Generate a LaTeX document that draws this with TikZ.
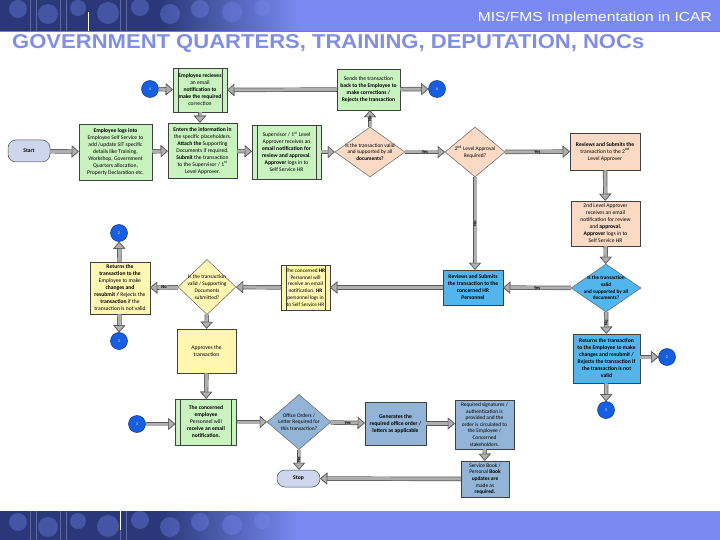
\documentclass[tikz,border=0pt]{standalone}
\usepackage{fontspec}
\setmainfont{Carlito}
\newfontfamily\arialfont{Liberation Sans}
\usepackage{graphicx}
\usetikzlibrary{shapes.geometric,arrows.meta}

\definecolor{hdr}{RGB}{122,138,242}
\definecolor{hdrdark}{RGB}{42,56,122}
\definecolor{titlec}{RGB}{128,142,230}
\definecolor{grnf}{RGB}{200,242,190}
\definecolor{pchf}{RGB}{250,218,196}
\definecolor{bluf}{RGB}{82,182,236}
\definecolor{yelf}{RGB}{255,246,178}
\definecolor{stlf}{RGB}{145,180,215}
\definecolor{circf}{RGB}{22,95,225}
\definecolor{termf}{RGB}{205,214,236}
\definecolor{arrf}{RGB}{175,175,175}
\definecolor{arrd}{RGB}{90,90,90}

\tikzset{
  box/.style={draw=black!75, line width=0.5pt, align=center, inner sep=0pt,
    font=\fontsize{5.6}{7.0}\selectfont},
  dbl/.style={path picture={\draw[black!75,line width=0.5pt]
    ([xshift=5pt]path picture bounding box.north west) -- ([xshift=5pt]path picture bounding box.south west)
    ([xshift=-5pt]path picture bounding box.north east) -- ([xshift=-5pt]path picture bounding box.south east);}},
  dia/.style={draw=black!60, line width=0.5pt, shape=diamond, inner sep=0pt},
  dtxt/.style={align=center, inner sep=0pt, font=\fontsize{5.4}{6.8}\selectfont},
  conn/.style={circle, draw=circf!60!black, line width=0.5pt, fill=circf, minimum size=17pt,
    inner sep=0pt, font=\fontsize{4}{4}\selectfont, text=white},
  term/.style={draw=black!70, line width=0.5pt, rounded corners=8pt, fill=termf, align=center,
    inner sep=0pt, font=\fontsize{5.6}{7.0}\selectfont\bfseries},
  flow/.style={draw=arrf, line width=3pt,
    -{Triangle[length=7pt,width=12pt,line width=0.6pt,color=arrd,fill=arrf]},
    preaction={draw=arrd, line width=4.4pt}},
  lab/.style={font=\fontsize{4.5}{5}\selectfont\bfseries, inner sep=0pt},
}

\begin{document}
\begin{tikzpicture}[x=1pt,y=-1pt]
\useasboundingbox (0,0) rectangle (720,540);
\fill[white] (0,0) rectangle (720,540);

% header band
\begin{scope}
\clip (0,0) rectangle (720,31);
\fill[hdrdark] (0,0) rectangle (160,31);
\shade[left color=hdrdark, right color=hdr] (160,0) rectangle (300,31);
\fill[hdr] (300,0) rectangle (720,31);
\foreach \cx/\cy/\r in {18/9/9, 48/14/10, 78/8/8, 108/13/11, 140/7/9, 170/14/10, 200/9/9, 232/12/10, 262/8/8}
  \fill[hdr, opacity=0.35] (\cx,\cy) circle (\r);
\foreach \vx in {30,36,60,66,120,126}
  \draw[white, opacity=0.25, line width=0.4pt] (\vx,0) -- (\vx,31);
\draw[white, line width=0.6pt] (88,12) -- (88,31);
\end{scope}
\draw[gray, line width=0.6pt] (0,31) -- (720,31);

% footer band
\begin{scope}
\clip (0,511) rectangle (720,540);
\fill[hdrdark] (0,511) rectangle (160,540);
\shade[left color=hdrdark, right color=hdr] (160,511) rectangle (300,540);
\fill[hdr] (300,511) rectangle (720,540);
\foreach \cx/\cy/\r in {18/522/9, 48/527/10, 78/521/8, 108/526/11, 140/520/9, 170/527/10, 200/522/9, 232/525/10, 262/521/8}
  \fill[hdr, opacity=0.35] (\cx,\cy) circle (\r);
\foreach \vx in {30,36,60,66,120,126}
  \draw[white, opacity=0.25, line width=0.4pt] (\vx,511) -- (\vx,540);
\draw[white, line width=0.6pt] (120,511) -- (120,530);
\end{scope}

% header texts
\node[anchor=east, inner sep=0pt] (subt) at (712,18)
  {\resizebox{234pt}{9.5pt}{\arialfont\color{white}MIS/FMS Implementation in ICAR}};
\node[anchor=south west, inner sep=0pt] (title) at (12,53)
  {\resizebox{632pt}{14pt}{\arialfont\bfseries\color{titlec}GOVERNMENT QUARTERS, TRAINING, DEPUTATION, NOCs}};

% connectors (circles)
\node[conn] (c4) at (150,89) {4};
\node[conn] (c6) at (437,89) {4};
\node[conn] (c2) at (119,233) {2};
\node[conn] (c3) at (119,341) {3};
\node[conn] (c5) at (667,357) {2};
\node[conn] (c7) at (606,410) {3};
\node[conn] (c1) at (137,424) {3};

% top row
\node[box, dbl, fill=grnf, minimum width=54pt, minimum height=44pt] (empRecv) at (200,90)
  {\textbf{Employee recieves}\\an email\\\textbf{notification to}\\\textbf{make the required}\\correction};
\node[box, fill=grnf, minimum width=63pt, minimum height=41pt] (sends) at (368.5,89.5)
  {Sends the transaction\\\textbf{back to the Employee to}\\\textbf{make corrections /}\\\textbf{Rejects the transaction}};

% second row
\node[term, minimum width=42pt, minimum height=22pt] (start) at (29,151) {Start};
\node[box, fill=grnf, minimum width=73pt, minimum height=56pt] (logs) at (115.5,152)
  {\bfseries Employee logs into\\Employee Self Service to\\add /update SIT specific\\details like Training,\\Workshop, Government\\Quarters allocation,\\Property Declaration etc.};
\node[box, fill=grnf, minimum width=69pt, minimum height=55pt] (enters) at (202.5,150.5)
  {\textbf{Enters the information in}\\the specific placeholders.\\\textbf{Attach the} Supporting\\Documents if required.\\\textbf{Submit} the transaction\\to the Supervisor / 1\textsuperscript{st}\\Level Approver.};
\node[box, dbl, fill=grnf, minimum width=69pt, minimum height=54pt] (sup) at (286.5,152)
  {Supervisor / 1\textsuperscript{st} Level\\Approver receives an\\\textbf{email notification for}\\\textbf{review and approval.}\\\textbf{Approver} logs in to\\Self Service HR};
\node[dia, fill=pchf, minimum width=70pt, minimum height=50pt] (d1) at (370,152) {};
\node[dtxt] at (d1) {Is the transaction valid\\and supported by all\\\textbf{documents?}};
\node[dia, fill=pchf, minimum width=60pt, minimum height=50pt] (d2) at (475,152) {};
\node[dtxt] at (d2) {2\textsuperscript{nd} Level Approval\\Required?};
\node[box, fill=pchf, minimum width=70pt, minimum height=37pt] (rev2) at (605,151.5)
  {\textbf{Reviews and Submits the}\\transaction to the 2\textsuperscript{nd}\\Level Approver};
\node[box, fill=pchf, minimum width=69pt, minimum height=45pt] (recv2) at (605.5,223.5)
  {2nd Level Approver\\receives an email\\notification for review\\and \textbf{approval.}\\\textbf{Approver} logs in to\\Self Service HR};

% third row
\node[dia, fill=bluf, minimum width=70pt, minimum height=48pt] (d3) at (606,288) {};
\node[dtxt, font=\fontsize{5.2}{6.6}\selectfont\bfseries] at (d3) {Is the transaction\\valid\\and supported by all\\documents?};
\node[box, fill=bluf, minimum width=60pt, minimum height=35pt, font=\fontsize{5.6}{7.0}\selectfont\bfseries] (revHR) at (473,287.5)
  {Reviews and Submits\\the transaction to the\\concerned HR\\Personnel};
\node[box, fill=bluf, minimum width=67pt, minimum height=49pt, font=\fontsize{5.6}{7.0}\selectfont\bfseries] (retB) at (606.5,358.5)
  {Returns the transaction\\to the Employee to make\\changes and resubmit /\\Rejects the transaction if\\the transaction is not\\valid};
\node[box, fill=yelf, minimum width=60pt, minimum height=52pt] (retY) at (120,288)
  {\textbf{Returns the}\\\textbf{transaction to the}\\Employee to make\\\textbf{changes and}\\\textbf{resubmit /} Rejects the\\\textbf{transaction} if the\\transaction is not valid};
\node[dia, fill=yelf, minimum width=58pt, minimum height=55pt] (dY) at (207,287) {};
\node[dtxt] at (dY) {Is the transaction\\valid / Supporting\\Documents\\submitted?};
\node[box, dbl, fill=yelf, minimum width=49pt, minimum height=45pt, font=\fontsize{5.3}{6.8}\selectfont] (hrY) at (305.5,287.5)
  {The concerned \textbf{HR}\\Personnel will\\receive an email\\notification. \textbf{HR}\\personnel logs in\\to Self Service HR};
\node[box, fill=yelf, minimum width=59pt, minimum height=44pt] (appr) at (206.5,351)
  {Approves the\\transaction};

% bottom row
\node[box, dbl, fill=grnf, minimum width=61pt, minimum height=46pt] (concE) at (206,422)
  {\textbf{The concerned}\\\textbf{employee}\\Personnel will\\\textbf{receive an email}\\\textbf{notification.}};
\node[dia, fill=stlf, minimum width=64pt, minimum height=55pt] (d4) at (299,422) {};
\node[dtxt] at (d4) {Office Orders /\\Letter Required for\\this transaction?};
\node[box, fill=stlf, minimum width=61pt, minimum height=43pt] (gen) at (395.5,423.5)
  {\textbf{Generates the}\\\textbf{required office order /}\\\textbf{letters as applicable}};
\node[box, fill=stlf, minimum width=59pt, minimum height=49pt, font=\fontsize{5.4}{6.6}\selectfont] (req) at (484.5,424.5)
  {Required signatures /\\authentication is\\provided and the\\order is circulated to\\the Employee /\\Concerned\\stakeholders.};
\node[box, fill=stlf, minimum width=48pt, minimum height=36pt, font=\fontsize{5.4}{6.6}\selectfont] (svc) at (485,479)
  {Service Book /\\Personal \textbf{Book}\\\textbf{updates are}\\made as\\\textbf{required.}};
\node[term, minimum width=43pt, minimum height=17pt] (stop) at (298.5,478.5) {Stop};

% flows
\draw[flow] (c4) -- (empRecv);
\draw[flow] (sends) -- (empRecv);
\draw[flow] (sends) -- (c6);
\draw[flow] (empRecv.south) -- (empRecv.south |- enters.north);
\draw[flow] (d1.north) -- node[lab, rotate=90] {No} (d1.north |- sends.south);
\draw[flow] (start) -- (logs);
\draw[flow] (logs) -- (enters);
\draw[flow] (enters) -- (sup);
\draw[flow] (sup) -- (d1);
\draw[flow] (d1) -- node[lab] {Yes} (d2);
\draw[flow] (d2) -- node[lab] {Yes} (rev2);
\draw[flow] (d2.south) -- node[lab, rotate=90] {No} (d2.south |- revHR.north);
\draw[flow] (rev2) -- (recv2);
\draw[flow] (recv2) -- (d3);
\draw[flow] (d3) -- node[lab] {Yes} (revHR);
\draw[flow] (d3) -- node[lab, rotate=90] {No} (retB);
\draw[flow] (retB.east |- c5) -- (c5);
\draw[flow] (retB) -- (c7);
\draw[flow] (revHR) -- (hrY);
\draw[flow] (hrY) -- (dY);
\draw[flow] (dY) -- node[lab] {No} (retY);
\draw[flow] (retY) -- (c2);
\draw[flow] (retY) -- (c3);
\draw[flow] (dY) -- (appr);
\draw[flow] (appr) -- (concE);
\draw[flow] (c1) -- (c1 -| concE.west);
\draw[flow] (concE) -- (d4);
\draw[flow] (d4) -- node[lab] {Yes} (gen);
\draw[flow] (d4.south) -- node[lab, rotate=90] {No} (d4.south |- stop.north);
\draw[flow] (gen) -- (gen -| req.west);
\draw[flow] (req) -- (svc);
\draw[flow] (svc) -- (stop);
\end{tikzpicture}
\end{document}
